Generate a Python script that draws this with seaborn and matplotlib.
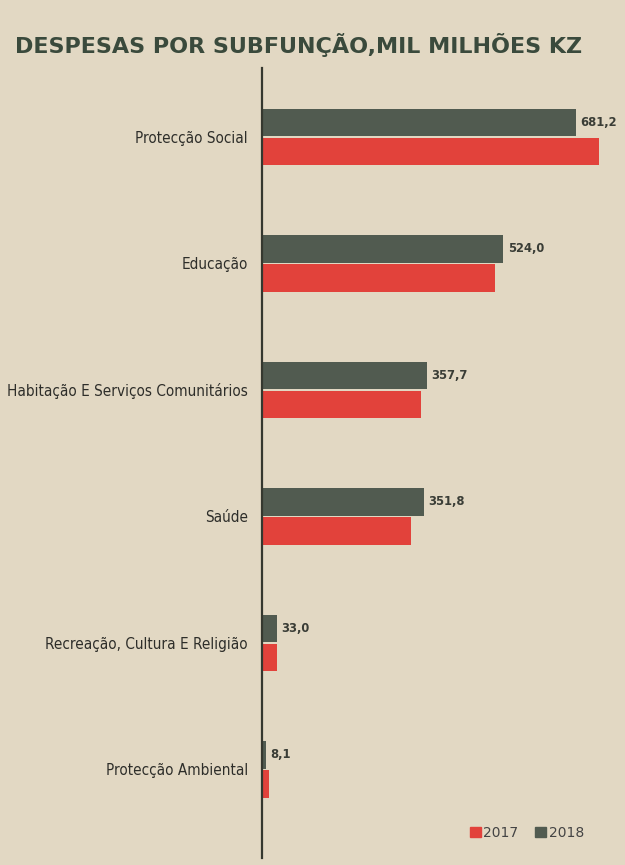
import matplotlib
matplotlib.use("Agg")
import matplotlib.pyplot as plt
import matplotlib.patches as mpatches
import seaborn as sns
import pandas as pd

categories = ["Protecção Social", "Educação", "Habitação E Serviços Comunitários",
              "Saúde", "Recreação, Cultura E Religião", "Protecção Ambiental"]
values_2018 = [681.2, 524.0, 357.7, 351.8, 33.0, 8.1]
values_2017 = [731.0, 505.0, 345.0, 323.0, 32.0, 15.0]
years = ["2018", "2017"]
legend_order = ["2017", "2018"]

BG = "#e2d8c3"
DARK = "#515b50"
RED = "#e2423b"
TXT = "#2e2e2a"

df = pd.DataFrame({
    "cat": categories * 2,
    "year": ["2018"] * len(categories) + ["2017"] * len(categories),
    "val": values_2018 + values_2017,
})

sns.set_theme(style="white")
plt.rcParams["font.family"] = ["DejaVu Sans"]

fig = plt.figure(figsize=(6.25, 8.65), dpi=100, facecolor=BG)
ax = fig.add_axes([262 / 625, 1 - 858 / 865, (615 - 262) / 625, (858 - 68) / 865])
ax.set_facecolor(BG)

sns.barplot(data=df, y="cat", x="val", hue="year", hue_order=years,
            palette={"2018": DARK, "2017": RED}, orient="h",
            width=0.46, gap=0.06, dodge=True, legend=False, ax=ax,
            saturation=1, edgecolor="none")

ax.set_xlim(0, 766)
ax.set_ylim(5.70, -0.545)
ax.set_xlabel("")
ax.set_ylabel("")
ax.set_xticks([])
ax.tick_params(axis="y", length=0, pad=10, labelcolor=TXT)
for lab in ax.get_yticklabels():
    lab.set_fontsize(11)
    lab.set_fontstretch("condensed")
for s in ["top", "right", "bottom"]:
    ax.spines[s].set_visible(False)
ax.spines["left"].set_color("#35382f")
ax.spines["left"].set_linewidth(1.6)

labels = [f"{v:.1f}".replace(".", ",") for v in values_2018]
txts = ax.bar_label(ax.containers[0], labels=labels, padding=3, fontsize=9.3,
                    fontweight="bold", color="#3a3d36")
for t in txts:
    t.set_fontstretch("condensed")

fig.text(0.024, 1 - 45 / 865, "DESPESAS POR SUBFUNÇÃO,MIL MILHÕES KZ",
         fontsize=16.0, fontweight="heavy", color="#3a4a3c", va="center")

handles = [mpatches.Patch(color=RED if y == "2017" else DARK, label=y) for y in legend_order]
leg = fig.legend(handles=handles, loc="center right", bbox_to_anchor=(0.955, 1 - 833 / 865),
                 ncol=2, frameon=False, handlelength=0.8, handleheight=0.8,
                 handletextpad=0.2, columnspacing=1.2,
                 prop={"size": 10})
for t in leg.get_texts():
    t.set_color("#444")

fig.savefig("out.png", dpi=100, facecolor=BG)
